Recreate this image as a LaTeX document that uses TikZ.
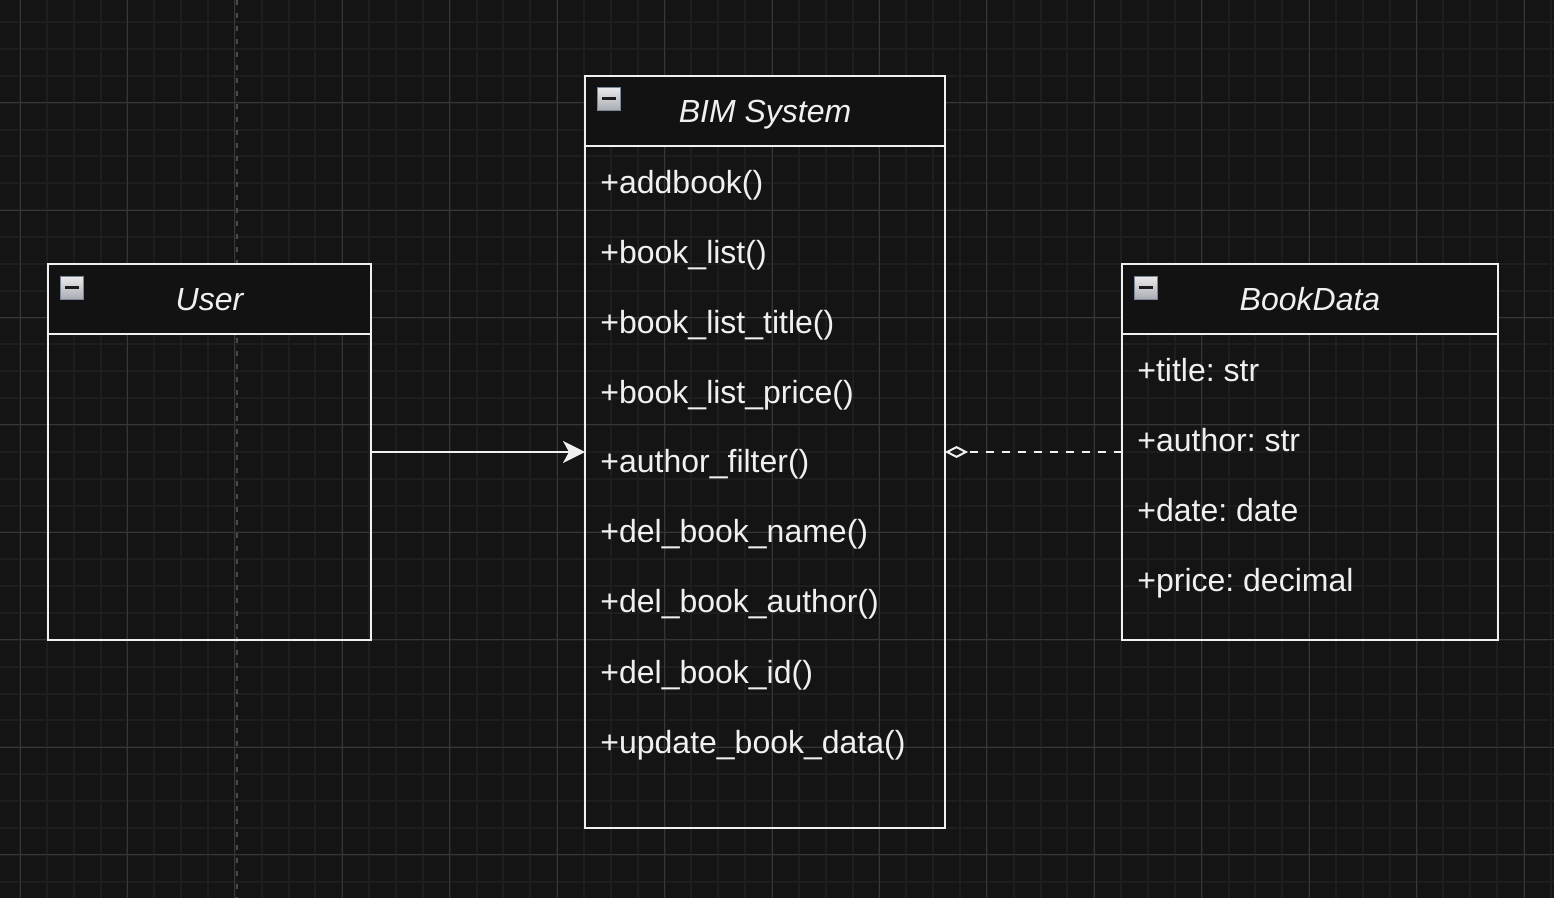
\documentclass[tikz,border=0pt]{standalone}
\usepackage{fontspec}
\setmainfont{Liberation Sans}
\usetikzlibrary{arrows.meta}
\definecolor{bg}{HTML}{141414}
\definecolor{hdr}{HTML}{121212}
\definecolor{minorgrid}{HTML}{1E1E1E}
\definecolor{majorgrid}{HTML}{363636}
\definecolor{fg}{HTML}{F0F0F0}
\definecolor{guide}{HTML}{4A4A4A}
\definecolor{iconborder}{HTML}{7B8698}
\definecolor{icontop}{HTML}{EAEAEC}
\definecolor{iconbot}{HTML}{A9ABB3}
\definecolor{iconminus}{HTML}{1C1C1C}
\tikzset{
  classbox/.style={draw=fg, line width=1pt, inner sep=0pt, outer sep=0pt, anchor=north west},
  hdrfill/.style={fill=hdr},
  sepline/.style={draw=fg, line width=1pt},
  member/.style={anchor=base west, inner sep=0pt, text=fg, font=\fontsize{16pt}{19pt}\selectfont\frenchspacing},
  classtitle/.style={anchor=base, inner sep=0pt, text=fg, font=\fontsize{16pt}{19pt}\selectfont\itshape},
  iconbox/.style={top color=icontop, bottom color=iconbot, draw=iconborder, line width=0.5pt},
  iconbar/.style={draw=iconminus, line width=1.5pt},
  minorline/.style={draw=minorgrid, line width=1pt},
  majorline/.style={draw=majorgrid, line width=0.5pt},
  guideline/.style={draw=guide, line width=1pt, dash pattern=on 2.5pt off 4pt},
  assoc/.style={draw=fg, line width=1pt, -{Stealth[length=11pt,width=11pt,inset=3pt]}},
  aggr/.style={draw=fg, line width=1pt, dash pattern=on 4pt off 4pt, -{Diamond[open,length=11.5pt,width=6pt]}}
}
\begin{document}
\begin{tikzpicture}[x=0.5pt,y=-0.5pt]
% background
\fill[bg] (0,0) rectangle (1554,898);
\useasboundingbox (0,0) rectangle (1554,898);
% grid
\foreach \i in {0,...,57} { \draw[minorline] ({20+26.857*\i},0) -- ({20+26.857*\i},898); }
\foreach \j in {1,...,33} { \draw[minorline] (0,{-4.73+26.857*\j}) -- (1554,{-4.73+26.857*\j}); }
\foreach \i in {0,...,14} { \draw[majorline] ({20+107.43*\i},0) -- ({20+107.43*\i},898); }
\foreach \j in {1,...,8} { \draw[majorline] (0,{-4.73+107.43*\j}) -- (1554,{-4.73+107.43*\j}); }
% vertical guide
\draw[guideline] (237.3,0) -- (237.3,898);

% header fills
\fill[hdrfill] (48,264) rectangle (371,334);
\fill[hdrfill] (585,76) rectangle (945,146);
\fill[hdrfill] (1122,264) rectangle (1498,334);

% class boxes
\node[classbox, minimum width=161.5pt, minimum height=188pt] (user) at (48,264) {};
\node[classbox, minimum width=180pt, minimum height=376pt] (bim) at (585,76) {};
\node[classbox, minimum width=188pt, minimum height=188pt] (bookdata) at (1122,264) {};

% header separators
\draw[sepline] (48,334) -- (371,334);
\draw[sepline] (585,146) -- (945,146);
\draw[sepline] (1122,334) -- (1498,334);

% collapse icons
\shade[iconbox] (60.5,276.5) rectangle +(23,23);
\draw[iconbar] (65,288) -- +(14,0);
\shade[iconbox] (597.5,87.5) rectangle +(23,23);
\draw[iconbar] (602,99) -- +(14,0);
\shade[iconbox] (1134.5,276.5) rectangle +(23,23);
\draw[iconbar] (1139,288) -- +(14,0);

% titles
\node[classtitle] (usertitle) at (209.5,311) {User};
\node[classtitle] (bimtitle) at (765,123) {BIM System};
\node[classtitle] (booktitle) at (1310,311) {BookData};

% BIM System members
\node[member] (m1) at (600,194) {+addbook()};
\node[member] (m2) at (600,264) {+book\_list()};
\node[member] (m3) at (600,334) {+book\_list\_title()};
\node[member] (m4) at (600,404) {+book\_list\_price()};
\node[member] (m5) at (600,473) {+author\_filter()};
\node[member] (m6) at (600,543) {+del\_book\_name()};
\node[member] (m7) at (600,613) {+del\_book\_author()};
\node[member] (m8) at (600,683) {+del\_book\_id()};
\node[member] (m9) at (600,753) {+update\_book\_data()};

% BookData members
\node[member] (b1) at (1137,382) {+title: str};
\node[member] (b2) at (1137,452) {+author: str};
\node[member] (b3) at (1137,522) {+date: date};
\node[member] (b4) at (1137,592) {+price: decimal};

% connectors
\draw[assoc] (user.east) -- (bim.west);
\draw[aggr] (bookdata.west) -- (bim.east);
\end{tikzpicture}
\end{document}
